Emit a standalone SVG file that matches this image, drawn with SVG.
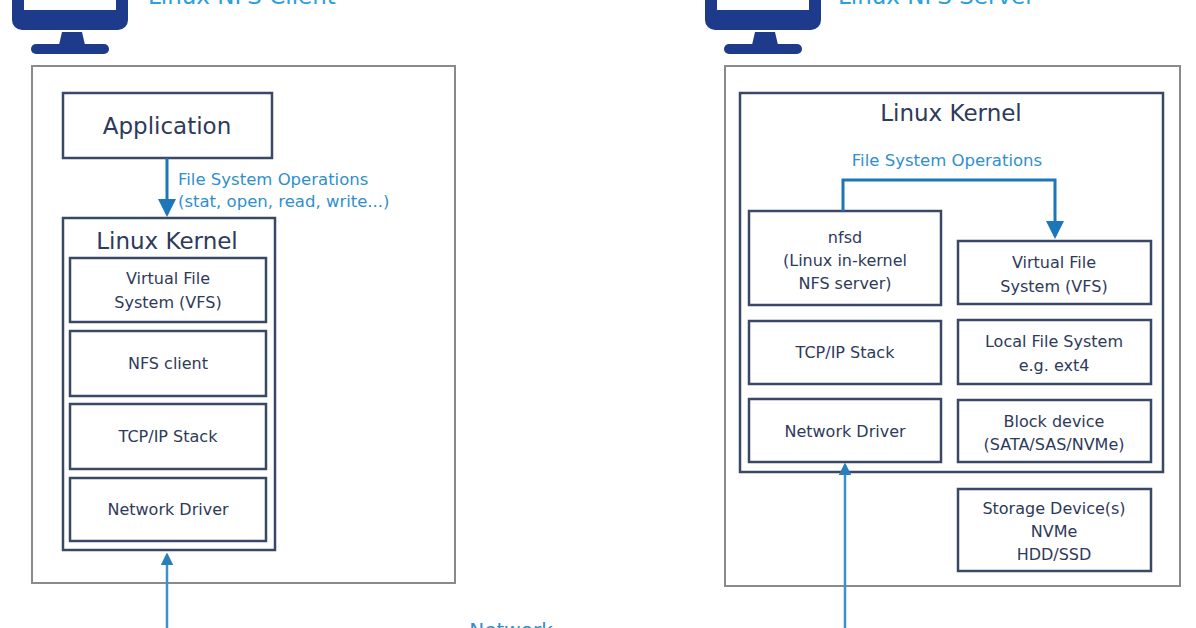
<svg xmlns="http://www.w3.org/2000/svg" width="1196" height="628" viewBox="0 0 1196 628">
<style>
.outer{fill:#fff;stroke:#8a8a8a;stroke-width:2}
.box{fill:#fff;stroke:#3b4766;stroke-width:2.5}
.t{font-family:"DejaVu Sans","Liberation Sans",sans-serif;fill:#2e3a5a;text-anchor:middle}
.s{font-size:16px}
.b{font-size:23px}
.lbl{font-family:"DejaVu Sans","Liberation Sans",sans-serif;fill:#2f8fce;font-size:16.5px}
.ttl{font-family:"DejaVu Sans","Liberation Sans",sans-serif;fill:#2aa0dc;font-size:23px}
.mon{fill:#1e3a8a}
.c{fill:none;stroke:#1d75ba;stroke-width:3}
.n{fill:none;stroke:#3a92cc;stroke-width:2.5}
</style>
<defs>
<marker id="ah" markerWidth="6" markerHeight="6" refX="5" refY="3" orient="auto" markerUnits="strokeWidth"><path d="M0,0 L6,3 L0,6 z" fill="#1d75ba"/></marker>
<marker id="ahs" markerWidth="5" markerHeight="5" refX="4" refY="2.5" orient="auto" markerUnits="strokeWidth"><path d="M0,0 L5,2.5 L0,5 z" fill="#2a7fb8"/></marker>
</defs>
<rect width="1196" height="628" fill="#fff"/>
<g id="client-host">
<path class="mon" d="M12,-10 H128 V20 a10,10 0 0 1 -10,10 H22 a10,10 0 0 1 -10,-10 z"/>
<rect x="24" y="-10" width="92" height="20" fill="#fff"/>
<path class="mon" d="M62,32 H82 L85,45 H59 z"/>
<rect class="mon" x="31" y="44" width="78" height="10" rx="5"/>
<text class="ttl" x="148" y="4">Linux NFS Client</text>
</g>
<g id="server-host">
<path class="mon" d="M705,-10 H821 V20 a10,10 0 0 1 -10,10 H715 a10,10 0 0 1 -10,-10 z"/>
<rect x="717" y="-10" width="92" height="20" fill="#fff"/>
<path class="mon" d="M755,32 H775 L778,45 H752 z"/>
<rect class="mon" x="724" y="44" width="78" height="10" rx="5"/>
<text class="ttl" x="838" y="4">Linux NFS Server</text>
</g>
<g id="client"><rect class="outer" x="32" y="66" width="423" height="517"/></g>
<g id="application"><rect class="box" x="63" y="93" width="209" height="65"/><text class="t b" x="167" y="134">Application</text></g>
<g id="client-kernel"><rect class="box" x="63" y="218" width="212" height="332"/><text class="t b" x="167" y="249">Linux Kernel</text></g>
<g id="c-vfs"><rect class="box" x="70" y="258" width="196" height="64"/><text class="t s" x="168" y="284">Virtual File</text><text class="t s" x="168" y="308">System (VFS)</text></g>
<g id="c-nfs"><rect class="box" x="70" y="331" width="196" height="65"/><text class="t s" x="168" y="369">NFS client</text></g>
<g id="c-tcp"><rect class="box" x="70" y="404" width="196" height="65"/><text class="t s" x="168" y="442">TCP/IP Stack</text></g>
<g id="c-drv"><rect class="box" x="70" y="478" width="196" height="63"/><text class="t s" x="168" y="515">Network Driver</text></g>
<g id="server"><rect class="outer" x="725" y="66" width="455" height="520"/></g>
<g id="server-kernel"><rect class="box" x="740" y="93" width="423" height="379"/><text class="t b" x="951" y="121">Linux Kernel</text></g>
<g id="nfsd"><rect class="box" x="749" y="211" width="192" height="94"/><text class="t s" x="845" y="243">nfsd</text><text class="t s" x="845" y="266">(Linux in-kernel</text><text class="t s" x="845" y="289">NFS server)</text></g>
<g id="s-tcp"><rect class="box" x="749" y="321" width="192" height="63"/><text class="t s" x="845" y="358">TCP/IP Stack</text></g>
<g id="s-drv"><rect class="box" x="749" y="399" width="192" height="63"/><text class="t s" x="845" y="437">Network Driver</text></g>
<g id="s-vfs"><rect class="box" x="958" y="241" width="193" height="63"/><text class="t s" x="1054" y="268">Virtual File</text><text class="t s" x="1054" y="292">System (VFS)</text></g>
<g id="s-lfs"><rect class="box" x="958" y="320" width="193" height="64"/><text class="t s" x="1054" y="347">Local File System</text><text class="t s" x="1054" y="371">e.g. ext4</text></g>
<g id="s-blk"><rect class="box" x="958" y="400" width="193" height="62"/><text class="t s" x="1054" y="427">Block device</text><text class="t s" x="1054" y="450">(SATA/SAS/NVMe)</text></g>
<g id="s-store"><rect class="box" x="958" y="489" width="193" height="82"/><text class="t s" x="1054" y="514">Storage Device(s)</text><text class="t s" x="1054" y="537">NVMe</text><text class="t s" x="1054" y="560">HDD/SSD</text></g>
<g id="connectors">
<path class="c" d="M167,158 V214" marker-end="url(#ah)"/>
<text class="lbl" x="178" y="185">File System Operations</text>
<text class="lbl" x="178" y="207">(stat, open, read, write...)</text>
<path class="c" d="M843,211 V180 H1055 V236" marker-end="url(#ah)"/>
<text class="lbl" x="947" y="166" text-anchor="middle">File System Operations</text>
<path class="n" d="M167,628 V555" marker-end="url(#ahs)"/>
<path class="n" d="M845,628 V465" marker-end="url(#ahs)"/>
<text class="lbl" x="511" y="637" text-anchor="middle" style="font-size:20px">Network</text>
</g>
</svg>
